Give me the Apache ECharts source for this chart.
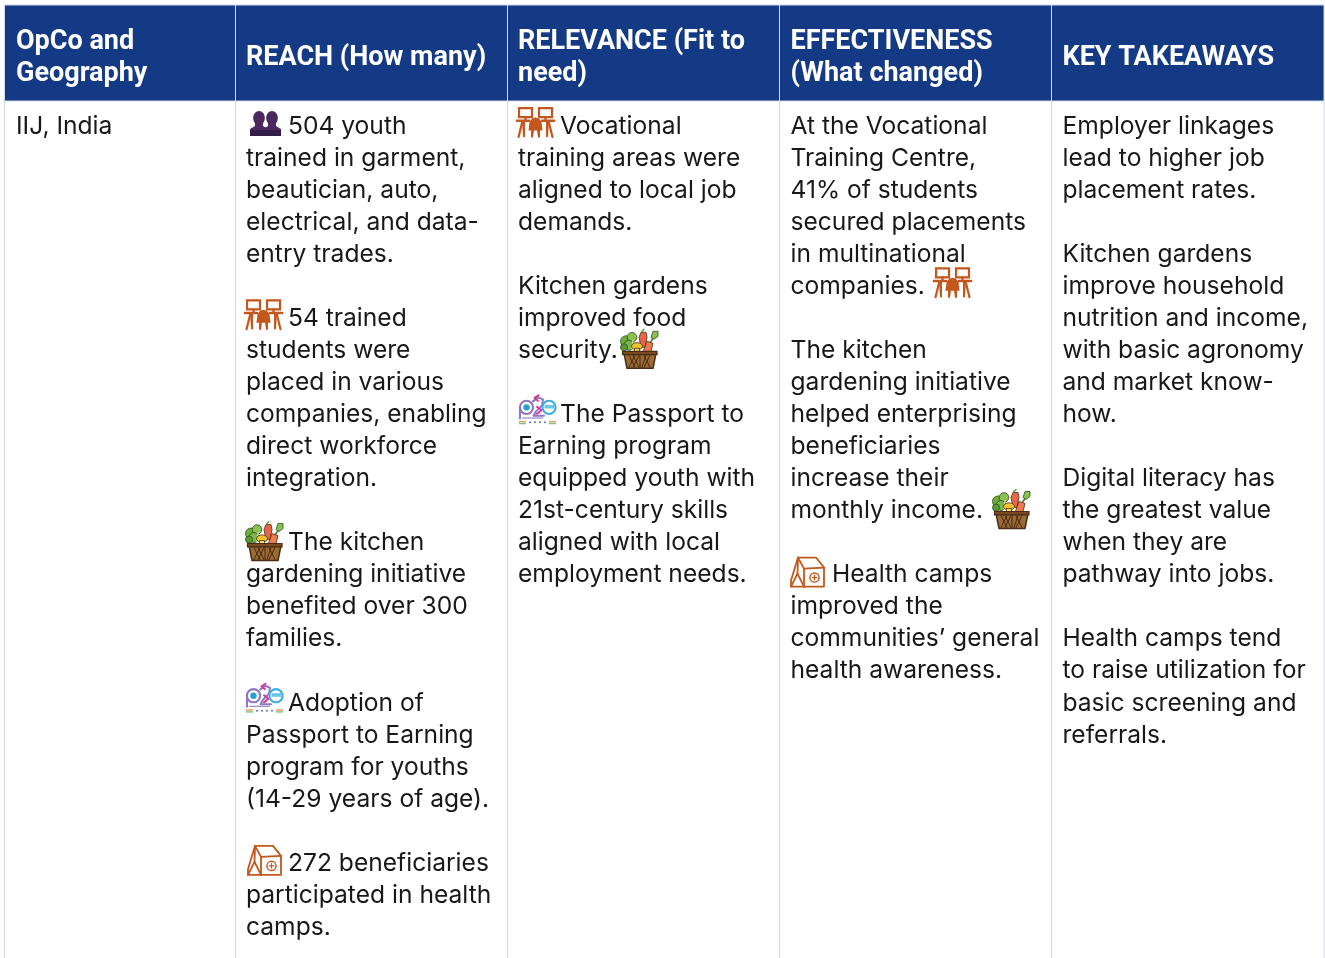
<!DOCTYPE html>
<html><head><meta charset="utf-8">
<style>html,body{margin:0;padding:0;background:#fff}#c{width:1325px;height:958px}</style>
<script src="https://cdn.jsdelivr.net/npm/echarts@6/dist/echarts.min.js"></script>
</head><body><div id="c"></div>
<script>
const headers = [
  ['OpCo and','Geography'],
  ['REACH (How many)'],
  ['RELEVANCE (Fit to','need)'],
  ['EFFECTIVENESS','(What changed)'],
  ['KEY TAKEAWAYS']
];
const opcoLines = ['IIJ, India'];
const reachLines = ['504 youth','trained in garment,','beautician, auto,','electrical, and data-','entry trades.','',
 '54 trained','students were','placed in various','companies, enabling','direct workforce','integration.','',
 'The kitchen','gardening initiative','benefited over 300','families.','',
 'Adoption of','Passport to Earning','program for youths','(14-29 years of age).','',
 '272 beneficiaries','participated in health','camps.'];
const relevanceLines = ['Vocational','training areas were','aligned to local job','demands.','',
 'Kitchen gardens','improved food','security.','',
 'The Passport to','Earning program','equipped youth with','21st-century skills','aligned with local','employment needs.'];
const effectLines = ['At the Vocational','Training Centre,','41% of students','secured placements','in multinational','companies.','',
 'The kitchen','gardening initiative','helped enterprising','beneficiaries','increase their','monthly income.','',
 'Health camps','improved the','communities\u2019 general','health awareness.'];
const takeawayLines = ['Employer linkages','lead to higher job','placement rates.','',
 'Kitchen gardens','improve household','nutrition and income,','with basic agronomy','and market know-','how.','',
 'Digital literacy has','the greatest value','when they are','pathway into jobs.','',
 'Health camps tend','to raise utilization for','basic screening and','referrals.'];
const bodyColumns = [opcoLines, reachLines, relevanceLines, effectLines, takeawayLines];

// layout constants
const BODY_FONT = 'Inter', HEAD_FONT = 'Roboto';
const BODY_SIZE = 24.6, HEAD_SIZE = 27;
const colEdges = [4.5,235.5,507.5,779.5,1051.5,1324];
const textLeft = [16,246,518,790.5,1062.5];
const headTop = 5, headBottom = 101, firstLine = 125, pitch = 32.04, headMid = 58;
const bodyShift = 1.4;
const indents = {'1:0':288,'1:6':288,'1:13':288,'1:18':288,'1:23':288,'2:0':560,'2:9':560,'3:14':832};
// icon, column, line, left
const icons = [
 ['people',1,0,250],['desk',1,6,244],['basket',1,13,245],['p2e',1,18,245],['tent',1,23,247],
 ['desk',2,0,516],['basket',2,7,620],['p2e',2,9,518],
 ['desk',3,5,933],['basket',3,12,992],['tent',3,14,790]
];
const iconTopOffset = {people:-14,desk:-18,basket:-19,p2e:-18,tent:-17};

const ORANGE='#c3571d', PURPLE='#4a2a5e', DARK='#321c48';
function poly(points,stroke,lw,fill){return {type:'polyline',shape:{points},style:{stroke:stroke,lineWidth:lw,fill:fill||null,lineJoin:'round',lineCap:'round'}};}
function pgon(points,fill,stroke,lw){return {type:'polygon',shape:{points},style:{fill,stroke:stroke||null,lineWidth:lw||0,lineJoin:'round'}};}
function rc(x,y,w,h,st){return {type:'rect',shape:{x,y,width:w,height:h},style:st};}
function circ(cx,cy,r,st){return {type:'circle',shape:{cx,cy,r},style:st};}
const iconDraw = {
 people(){ const c=[];
  [9,22].forEach(x=>{
   c.push({type:'ellipse',shape:{cx:x,cy:7,rx:5.8,ry:7},style:{fill:PURPLE}});
   c.push(pgon([[x-4,12],[x+4,12],[x+4,15],[x+9,18],[x+9,25],[x-9,25],[x-9,18],[x-4,15]],PURPLE));
  });
  c.push(rc(0,19,31,6,{fill:DARK}));
  return c; },
 desk(){ const s={fill:'#fff',stroke:ORANGE,lineWidth:2.2}; return [
  rc(3,1.2,13,9,s),rc(23,1.2,13,9,s),
  poly([[9.5,10],[9.5,13]],ORANGE,2.2),poly([[29.5,10],[29.5,13]],ORANGE,2.2),
  poly([[1,13.8],[13,13.8]],ORANGE,2.6),poly([[26,13.8],[38,13.8]],ORANGE,2.6),
  pgon([[6,14],[9,14],[9,30],[7,30]],ORANGE),poly([[6.5,14],[2.5,30]],ORANGE,2.2),
  pgon([[30,14],[33,14],[32,30],[30,30]],ORANGE),poly([[32.5,14],[36.5,30]],ORANGE,2.2),
  pgon([[19.5,10.5],[23,11.5],[25.5,15],[26.5,23.5],[12.5,23.5],[13.5,15],[16,11.5]],ORANGE),
  pgon([[15,23],[18,23],[17,30.5],[15,30.5]],ORANGE),pgon([[21,23],[24,23],[24,30.5],[22,30.5]],ORANGE)
 ];},
 basket(){ const o='#4a2c14'; const c=[
  circ(6,11,5.5,{fill:'#6fae3e',stroke:'#2f4d1c',lineWidth:0.8}),circ(12,7,4.8,{fill:'#8cc152',stroke:'#2f4d1c',lineWidth:0.8}),circ(9,15,5,{fill:'#7ab648',stroke:'#2f4d1c',lineWidth:0.8}),
  circ(4,17,3.5,{fill:'#5b9a32',stroke:'#2f4d1c',lineWidth:0.8}),
  poly([[13,10],[12,20]],'#e9f0c8',1),
  pgon([[19,7],[21,2],[26,2],[27,7],[25,17],[21,17]],'#e8654a',o,0.8),
  poly([[22,1],[24,-1]],'#5b9a32',1.5),
  pgon([[33,1],[38,1],[38,6],[34,9],[31,7]],'#8cc152','#2f4d1c',0.8),poly([[33,8],[29,14]],'#4c7a28',1.5),
  pgon([[27,11],[33,13],[31,21],[27,25],[23,22]],'#ef7a4f',o,0.8),
  {type:'ellipse',shape:{cx:17,cy:16,rx:5.5,ry:3.6},style:{fill:'#f2c230',stroke:o,lineWidth:0.8}},
  rc(14.5,18,5,5,{fill:'#f6d860',stroke:o,lineWidth:0.8}),
  pgon([[4,23],[36,23],[33,38],[7,38]],'#9a6a35',o,1.5),
  rc(2.5,21,34.5,3.4,{fill:'#7a4a20',stroke:o,lineWidth:1.2}),
 ];
  [[9,25,15,37],[15,25,9,37],[19,25,13,37],[13,25,19,37],[24,25,30,37],[30,25,24,37],[20,24,20,38],[26,25,22,37]].forEach(a=>c.push(poly([[a[0],a[1]],[a[2],a[3]]],o,1)));
  return c; },
 p2e(){ const pu='#8f78c4',bl='#2b9ed6',pk='#d9329b'; return [
  circ(8.5,12,6.6,{fill:'#fff',stroke:pu,lineWidth:2.1}),circ(8.5,12,3.2,{fill:bl}),
  poly([[2,12],[2,23]],pu,2.1),
  poly([[15,6],[20,2],[25,4],[24,10],[18,16],[15.5,20.5],[26,20.5]],pu,2),
  poly([[20.5,0],[16.5,2.5],[20,5.5]],pk,1.9),poly([[19,11.5],[23.5,15],[19,18.5]],pk,1.9),
  circ(31,12,6.6,{fill:'#fff',stroke:'#3fadde',lineWidth:2.1}),rc(26.5,9.5,9.5,3.6,{fill:'#6cc3e6'}),
  rc(4,22,21,1.3,{fill:'#a090cc'}),
  rc(1,25.5,7,1.6,{fill:'#e8a46a'}),rc(1,27.5,7,1.4,{fill:'#7cc47f'}),
  circ(12,27,1,{fill:'#5f70bb'}),circ(17,27,1,{fill:'#5f70bb'}),circ(22,27,1,{fill:'#5f70bb'}),circ(27,27,1,{fill:'#5f70bb'}),
  rc(31,25.5,7,1.6,{fill:'#e8a46a'}),rc(31,27.5,7,1.4,{fill:'#7cc47f'})
 ];},
 tent(){ const w=1.8; return [
  poly([[1,30],[1,24],[8,1],[26,1],[34,11],[34,30],[1,30]],ORANGE,w),
  poly([[8,1],[14,12],[14,30]],ORANGE,w),poly([[14,12],[34,11]],ORANGE,w),
  poly([[1,30],[7.5,17],[14,30]],ORANGE,w),poly([[8,1],[7.5,17]],ORANGE,w),
  circ(24.5,21,4.6,{fill:'#fff',stroke:ORANGE,lineWidth:1.4}),
  poly([[22.3,21],[26.7,21]],ORANGE,1.2),poly([[24.5,18.8],[24.5,23.2]],ORANGE,1.2)
 ];}
};

const headerData = headers.map((_,i)=>[colEdges[i],headTop,colEdges[i+1],headBottom]);
const ruleData = colEdges.map(x=>[x]);
const headTextData=[];
headers.forEach((ls,c)=>ls.forEach((t,i)=>headTextData.push([textLeft[c],headMid+(i-(ls.length-1)/2)*32,t])));
const bodyTextData=[];
bodyColumns.forEach((ls,c)=>ls.forEach((t,i)=>{ if(!t) return;
  bodyTextData.push([indents[c+':'+i]||textLeft[c],firstLine+bodyShift+i*pitch,t]);}));
const iconData=icons.map(a=>[a[3],firstLine+a[2]*pitch+iconTopOffset[a[0]],a[0]]);

function textSeries(data,font,size,weight,color){
 return {type:'custom',coordinateSystem:'cartesian2d',silent:true,clip:false,data,encode:{x:0,y:1},
  renderItem(p,api){const pt=api.coord([api.value(0),api.value(1)]);
   return {type:'text',x:pt[0],y:pt[1],style:{text:data[p.dataIndex][2],fill:color,
     fontFamily:font,fontSize:size,fontWeight:weight,textAlign:'left',textVerticalAlign:'middle'}};}};
}
const chart=echarts.init(document.getElementById('c'),null,{renderer:'canvas',width:1325,height:958});
chart.setOption({
 animation:false,backgroundColor:'#ffffff',
 grid:{left:0,right:0,top:0,bottom:0},
 xAxis:{type:'value',min:0,max:1325,show:false},
 yAxis:{type:'value',min:0,max:958,inverse:true,show:false},
 series:[
  {type:'custom',silent:true,clip:false,data:ruleData,encode:{x:0},
   renderItem(p,api){const a=api.coord([api.value(0),headBottom]),b=api.coord([api.value(0),958]);
    return {type:'line',shape:{x1:a[0],y1:a[1],x2:b[0],y2:b[1]},style:{stroke:'#cdd8ec',lineWidth:1}};}},
  {type:'custom',silent:true,clip:false,data:headerData,encode:{x:[0,2],y:[1,3]},
   renderItem(p,api){const a=api.coord([api.value(0),api.value(1)]),b=api.coord([api.value(2),api.value(3)]);
    return {type:'rect',shape:{x:a[0],y:a[1],width:b[0]-a[0],height:b[1]-a[1]},style:{fill:'#153a85',stroke:'#cdd8ec',lineWidth:1}};}},
  textSeries(headTextData,HEAD_FONT,HEAD_SIZE,700,'#ffffff'),
  textSeries(bodyTextData,BODY_FONT,BODY_SIZE,400,'#181818'),
  {type:'custom',silent:true,clip:false,data:iconData,encode:{x:0,y:1},
   renderItem(p,api){const pt=api.coord([api.value(0),api.value(1)]);
    return {type:'group',x:pt[0],y:pt[1],children:iconDraw[iconData[p.dataIndex][2]]()};}}
 ]
});
</script></body></html>
